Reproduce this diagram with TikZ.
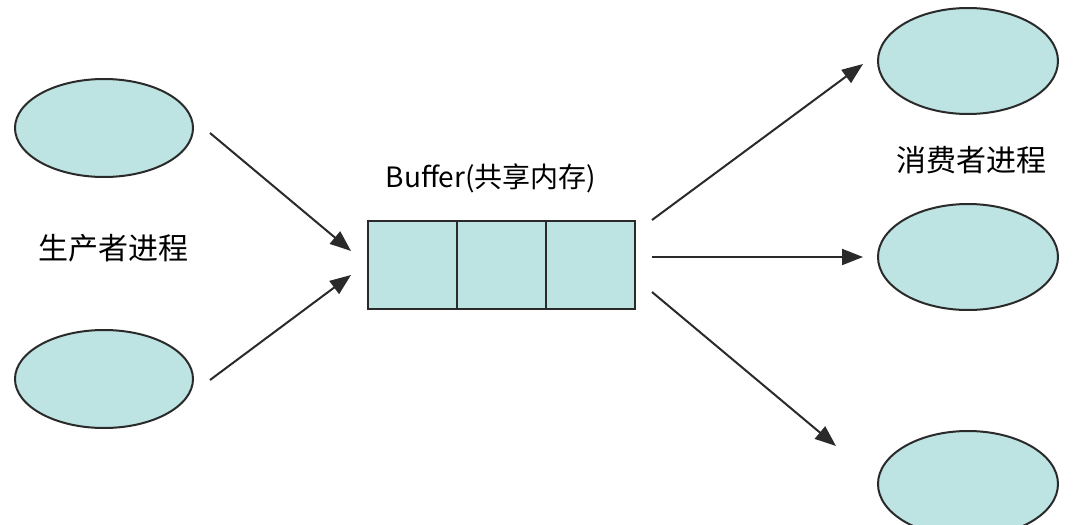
\documentclass[tikz,border=0pt]{standalone}
\usepackage{fontspec}
\setmainfont{Noto Sans CJK SC}
\usetikzlibrary{shapes.geometric,arrows.meta}
\definecolor{cellfill}{HTML}{BDE3E3}
\definecolor{edge}{HTML}{2A2A2A}
\tikzset{
  proc/.style={ellipse, draw=edge, line width=2pt, fill=cellfill, inner sep=0pt},
  lproc/.style={proc, minimum width=178pt, minimum height=98pt},
  rproc/.style={proc, minimum width=180pt, minimum height=106pt},
  cell/.style={rectangle, draw=edge, line width=2pt, fill=cellfill, minimum width=89pt, minimum height=88pt, inner sep=0pt},
  flow/.style={draw=edge, line width=2pt, -{Triangle[length=21pt,width=16pt]}},
  lbl/.style={inner sep=0pt, text=black}
}
\begin{document}
\begin{tikzpicture}[x=1pt,y=-1pt]
\useasboundingbox[fill=white] (0,0) rectangle (1080,525);
% producers
\node[lproc] (p1) at (104,128) {};
\node[lproc] (p2) at (104,379) {};
\node[lbl, font=\fontsize{30}{34}\selectfont] (plabel) at (113,248) {生产者进程};
% buffer
\node[cell] (c1) at (412,265) {};
\node[cell] (c2) at (501.5,265) {};
\node[cell] (c3) at (590.5,265) {};
\node[lbl, font=\fontsize{28}{32}\selectfont] (blabel) at (491,178) {Buffer(共享内存)};
% consumers
\node[rproc] (q1) at (968,61) {};
\node[rproc] (q2) at (968,257) {};
\node[rproc] (q3) at (968,484) {};
\node[lbl, font=\fontsize{30}{34}\selectfont] (qlabel) at (971,160) {消费者进程};
% connector ends
\coordinate (a1s) at (210,133); \coordinate (a1e) at (351,251);
\coordinate (a2s) at (210,380); \coordinate (a2e) at (351,275);
\coordinate (a3s) at (652,220); \coordinate (a3e) at (863,64);
\coordinate (a4s) at (652,257); \coordinate (a4e) at (863,257);
\coordinate (a5s) at (652,292); \coordinate (a5e) at (836,446);
\draw[flow] (a1s) -- (a1e);
\draw[flow] (a2s) -- (a2e);
\draw[flow] (a3s) -- (a3e);
\draw[flow] (a4s) -- (a4e);
\draw[flow] (a5s) -- (a5e);
\end{tikzpicture}
\end{document}
